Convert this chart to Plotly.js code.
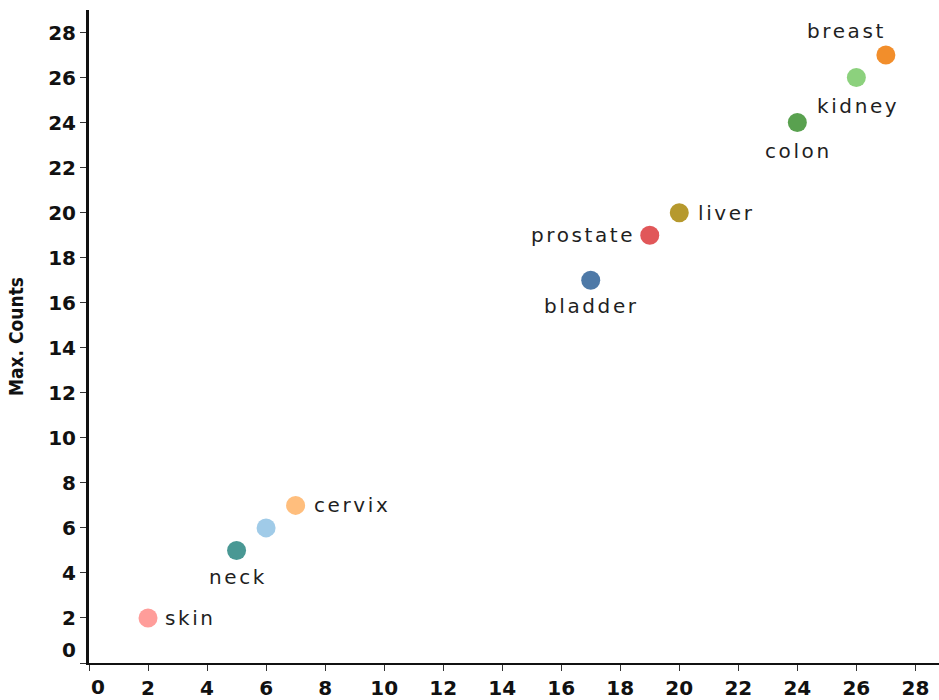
<!DOCTYPE html>
<html>
<head>
<meta charset="utf-8">
<script src="https://cdn.plot.ly/plotly-3.0.1.min.js"></script>
<style>
  html, body { margin: 0; padding: 0; background: #fff; }
  #chart { width: 939px; height: 700px; }
  .annotation-text { letter-spacing: 2.6px; }
</style>
</head>
<body>
<div id="chart"></div>
<script>
// ---- data ----
const cancerTypes = ['skin', 'neck', 'head', 'cervix', 'bladder', 'prostate', 'liver', 'colon', 'kidney', 'breast'];
const pointLabels = ['skin', 'neck', '', 'cervix', 'bladder', 'prostate', 'liver', 'colon', 'kidney', 'breast'];
const xValues = [2, 5, 6, 7, 17, 19, 20, 24, 26, 27];
const maxCounts = [2, 5, 6, 7, 17, 19, 20, 24, 26, 27];
const tickValues = [0, 2, 4, 6, 8, 10, 12, 14, 16, 18, 20, 22, 24, 26, 28];
const tickLabels = ['0', '2', '4', '6', '8', '10', '12', '14', '16', '18', '20', '22', '24', '26', '28'];
const yAxisTitle = 'Max. Counts';

// ---- style ----
const pointColors = ['#FF9D9A', '#499894', '#A0CBE8', '#FFBE7D', '#4E79A7', '#E15759', '#B6992D', '#59A14F', '#8CD17D', '#F28E2B'];
// label placement per point: [xanchor, xshift, yshift]
const labelPlacement = [
  ['left', 17, 0],      // skin
  ['center', 1, -27],   // neck
  ['center', 0, 0],     // (unlabelled)
  ['left', 18, 0],      // cervix
  ['center', 1, -26],   // bladder
  ['right', -15, 0],    // prostate
  ['left', 19, 0],      // liver
  ['center', 1, -28],   // colon
  ['center', 2, -28],   // kidney
  ['center', -39, 24]   // breast
];

const trace = {
  type: 'scatter',
  mode: 'markers',
  x: xValues,
  y: maxCounts,
  customdata: cancerTypes,
  marker: { color: pointColors, size: 19, line: { width: 0 } },
  cliponaxis: false,
  hoverinfo: 'skip'
};

const labelFont = { family: 'DejaVu Sans', size: 20, color: '#1f1f1f' };
const pointAnnotations = pointLabels.map((t, i) => ({
  xref: 'x', yref: 'y', x: xValues[i], y: maxCounts[i],
  text: t, showarrow: false,
  xanchor: labelPlacement[i][0], yanchor: 'middle',
  xshift: labelPlacement[i][1], yshift: labelPlacement[i][2],
  borderpad: 0, borderwidth: 0,
  font: labelFont
})).filter(a => a.text !== '');

// tick "0" labels are offset away from the corner, as in the reference
const shownTickText = tickLabels.map((t, i) => i === 0 ? '' : t);
const tickFont = { family: 'DejaVu Sans', size: 20, color: '#111', weight: 'bold' };

const layout = {
  width: 939,
  height: 700,
  margin: { l: 89, r: 0, t: 10, b: 37 },
  paper_bgcolor: '#fff',
  plot_bgcolor: '#fff',
  showlegend: false,
  xaxis: {
    range: [0, 28.8],
    tickmode: 'array',
    tickvals: tickValues,
    ticktext: shownTickText,
    showgrid: false,
    zeroline: false,
    showline: true,
    linecolor: '#111',
    linewidth: 2,
    ticks: 'outside',
    ticklen: 6,
    tickwidth: 1,
    tickcolor: '#333',
    tickfont: tickFont
  },
  yaxis: {
    range: [0, 29],
    tickmode: 'array',
    tickvals: tickValues,
    ticktext: shownTickText,
    showgrid: false,
    zeroline: false,
    showline: true,
    linecolor: '#111',
    linewidth: 3,
    ticks: 'outside',
    ticklen: 6,
    tickwidth: 1,
    tickcolor: '#333',
    tickfont: tickFont,
    title: {
      text: yAxisTitle,
      font: { family: 'Liberation Sans Narrow, DejaVu Sans Condensed', size: 19, color: '#111', weight: 'bold' },
      standoff: 20
    }
  },
  annotations: [
    {
      xref: 'paper', yref: 'paper', x: 0, y: 0,
      text: tickLabels[0], showarrow: false,
      xanchor: 'center', yanchor: 'middle', xshift: 10, yshift: -24,
      borderpad: 0, borderwidth: 0,
      font: tickFont
    },
    {
      xref: 'paper', yref: 'paper', x: 0, y: 0,
      text: tickLabels[0], showarrow: false,
      xanchor: 'right', yanchor: 'middle', xshift: -10, yshift: 13,
      borderpad: 0, borderwidth: 0,
      font: tickFont
    }
  ].concat(pointAnnotations)
};

Plotly.newPlot('chart', [trace], layout, { displayModeBar: false, staticPlot: true });
</script>
</body>
</html>
